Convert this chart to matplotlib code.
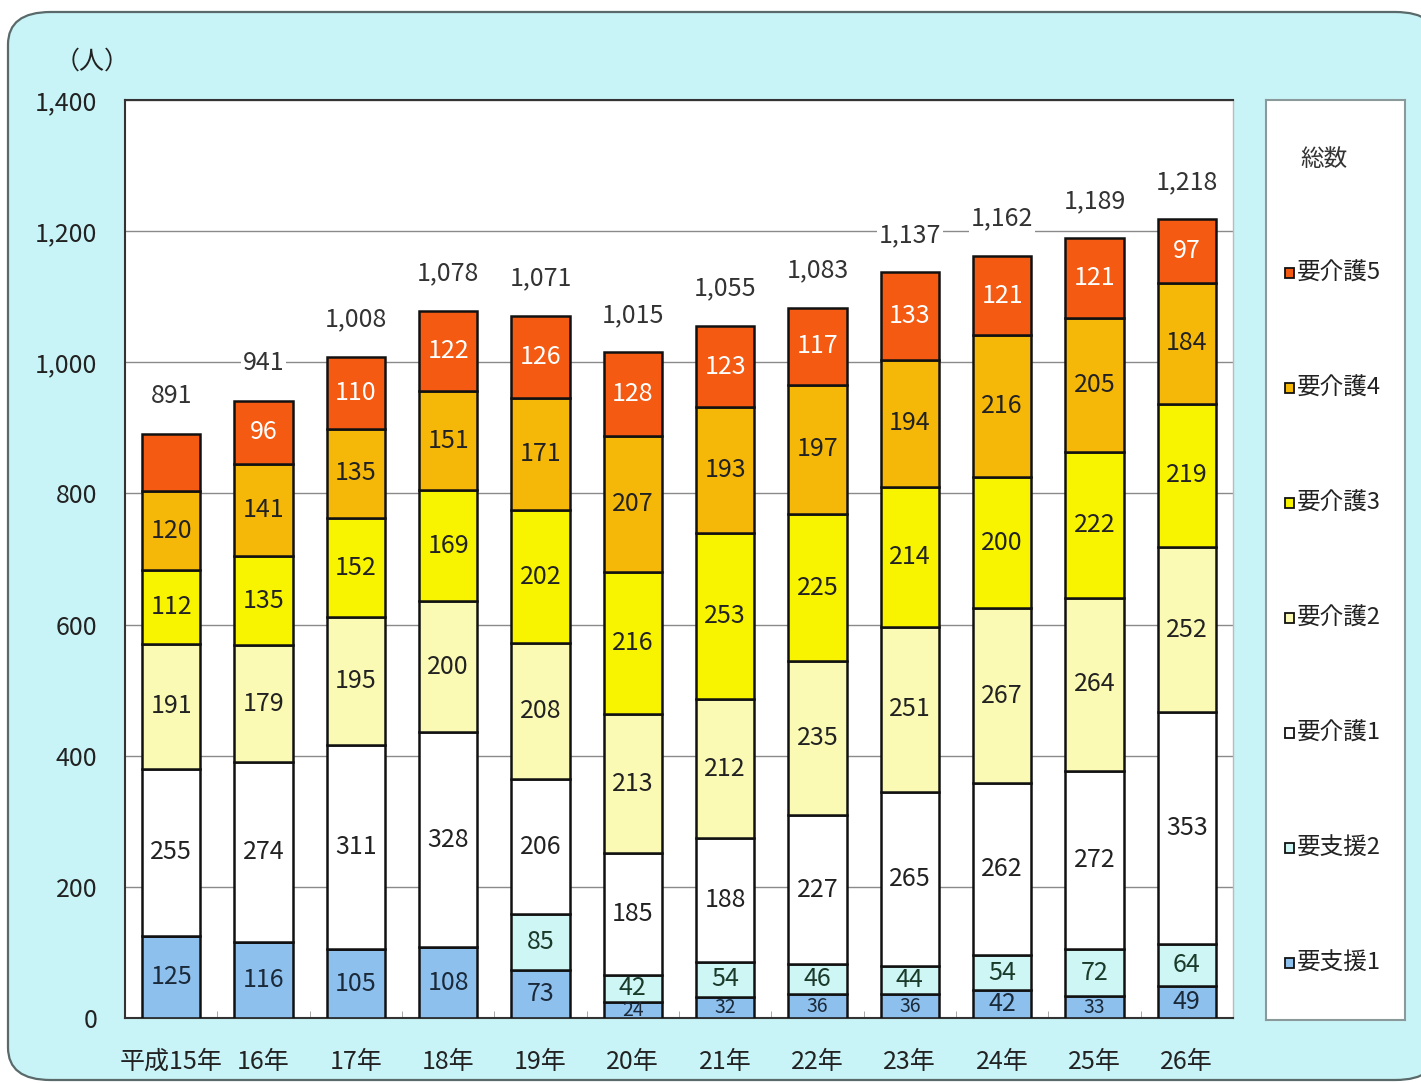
import matplotlib.pyplot as plt
from matplotlib.patches import FancyBboxPatch, Rectangle

plt.rcParams['font.family'] = ['Noto Sans CJK JP', 'DejaVu Sans']

# years (x axis)
years = ['平成15年', '16年', '17年', '18年', '19年', '20年',
         '21年', '22年', '23年', '24年', '25年', '26年']

# segment values, bottom to top
shien1 = [125, 116, 105, 108, 73, 24, 32, 36, 36, 42, 33, 49]
shien2 = [0, 0, 0, 0, 85, 42, 54, 46, 44, 54, 72, 64]
kaigo1 = [255, 274, 311, 328, 206, 185, 188, 227, 265, 262, 272, 353]
kaigo2 = [191, 179, 195, 200, 208, 213, 212, 235, 251, 267, 264, 252]
kaigo3 = [112, 135, 152, 169, 202, 216, 253, 225, 214, 200, 222, 219]
kaigo4 = [120, 141, 135, 151, 171, 207, 193, 197, 194, 216, 205, 184]
kaigo5 = [88, 96, 110, 122, 126, 128, 123, 117, 133, 121, 121, 97]
totals = [891, 941, 1008, 1078, 1071, 1015, 1055, 1083, 1137, 1162, 1189, 1218]

series = [shien1, shien2, kaigo1, kaigo2, kaigo3, kaigo4, kaigo5]
names = ['要支援1', '要支援2', '要介護1', '要介護2', '要介護3', '要介護4', '要介護5']
colors = ['#8ec0ee', '#cdf6f4', '#ffffff', '#fafab4', '#f8f400', '#f6b808', '#f45a12']
text_colors = ['#1a2a3a', '#1a3a2a', '#222222', '#222222', '#222222', '#222222', '#ffffff']

fig = plt.figure(figsize=(14.21, 10.83), dpi=100)
fig.patch.set_facecolor('white')

# cyan rounded background panel
bg = FancyBboxPatch((8 / 1421, 3 / 1083), 1430 / 1421, 1068 / 1083,
                    boxstyle='round,pad=0,rounding_size=0.03',
                    transform=fig.transFigure, facecolor='#c9f4f7',
                    edgecolor='#5a6a6a', linewidth=1.6, zorder=-10)
fig.patches.append(bg)

ax = fig.add_axes([125 / 1421, 1 - 1018 / 1083, 1108 / 1421, 918 / 1083])
ax.set_facecolor('white')

x = list(range(len(years)))
bottom = [0] * len(years)
for k, vals in enumerate(series):
    ax.bar(x, vals, width=0.63, bottom=bottom, color=colors[k],
           edgecolor='#111111', linewidth=1.8, zorder=3)
    for i, v in enumerate(vals):
        if v == 0 or (k == 6 and i == 0):
            continue
        fs = 18 if v >= 40 else 14
        ax.text(i, bottom[i] + v / 2, str(v), ha='center', va='center',
                fontsize=fs, color=text_colors[k], zorder=4)
    bottom = [b + v for b, v in zip(bottom, vals)]

for i, t in enumerate(totals):
    ax.annotate(f'{t:,}', (i, t), xytext=(0, 27), textcoords='offset points',
                ha='center', va='center', fontsize=18, color='#333333', zorder=5,
                bbox=dict(facecolor='white', edgecolor='none', pad=1))

ax.set_xlim(-0.5, 11.5)
ax.set_ylim(0, 1400)
ax.set_yticks(range(0, 1401, 200))
ax.set_yticklabels([f'{v:,}' for v in range(0, 1401, 200)], fontsize=18, color='#222222')
ax.set_xticks(x)
ax.set_xticklabels(years, fontsize=18, color='#222222')
ax.tick_params(axis='x', length=0, pad=22)
ax.tick_params(axis='y', length=0, pad=20)
ax.set_xticks([i + 0.5 for i in range(11)], minor=True)
ax.tick_params(axis='x', which='minor', length=5, direction='in', color='#999999')
ax.grid(axis='y', color='#8a8a8a', linewidth=1.0, zorder=0)
ax.set_axisbelow(True)
for side in ['left', 'bottom', 'top']:
    ax.spines[side].set_color('#333333')
    ax.spines[side].set_linewidth(1.5)
ax.spines['right'].set_color('#bbbbbb')
ax.spines['right'].set_linewidth(1.0)

fig.text(92 / 1421, 1 - 62 / 1083, '（人）', ha='center', va='center',
         fontsize=18, color='#222222')

# legend panel
lg = fig.add_axes([1266 / 1421, 1 - 1020 / 1083, 139 / 1421, 920 / 1083])
lg.set_facecolor('white')
lg.set_xlim(0, 139)
lg.set_ylim(1020, 100)
lg.set_xticks([])
lg.set_yticks([])
for s in lg.spines.values():
    s.set_color('#8a9a9a')
    s.set_linewidth(1.5)
lg.text(34, 160, '総数', ha='left', va='center', fontsize=17, color='#333333')
rows = [273, 388, 503, 618, 733, 848, 963]
for k, yy in zip(range(6, -1, -1), rows):
    lg.add_patch(Rectangle((19, yy - 5), 9, 10, facecolor=colors[k],
                           edgecolor='#111111', linewidth=1.3))
    lg.text(31, yy, names[k], ha='left', va='center', fontsize=17, color='#222222')

fig.savefig('out.png', dpi=100)
